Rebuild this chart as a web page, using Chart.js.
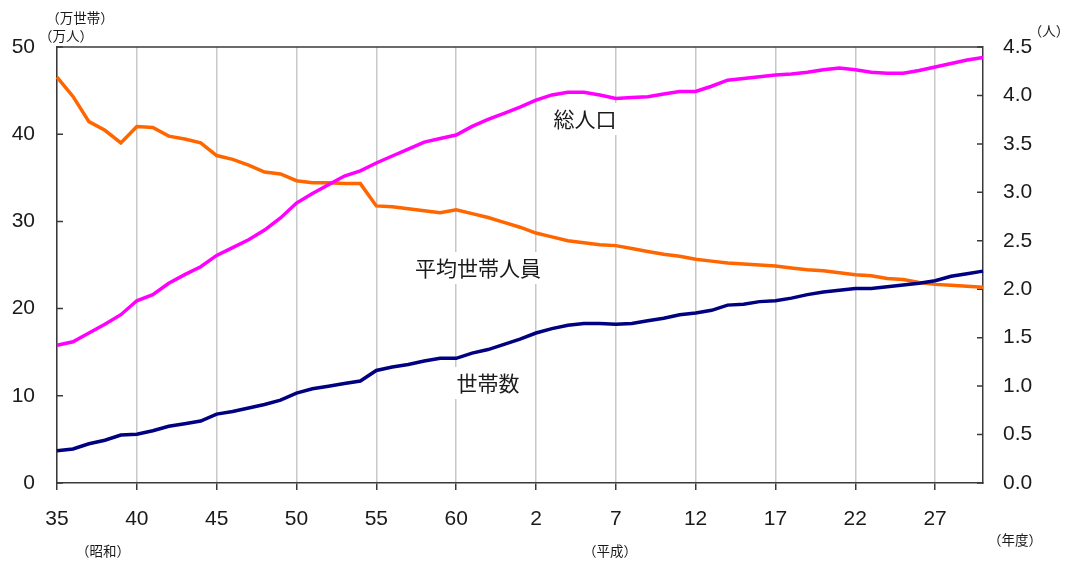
<!DOCTYPE html>
<html lang="ja">
<head>
<meta charset="utf-8">
<title>世帯数・総人口・平均世帯人員の推移</title>
<script src="https://cdn.jsdelivr.net/npm/chart.js@4.4.0/dist/chart.umd.min.js"></script>
<style>
  html, body { margin: 0; padding: 0; background: #fff; }
  #wrap { width: 1070px; height: 562px; }
</style>
</head>
<body>
<div id="wrap"><canvas id="trendChart" width="1070" height="562"></canvas></div>
<script>
// ========================================
// データ（昭和35年度〜平成30年度）
// ========================================

// 年度ラベル（昭和35〜63、平成元〜30）
const fiscalYears = [
  '35', '36', '37', '38', '39', '40', '41', '42', '43', '44',
  '45', '46', '47', '48', '49', '50', '51', '52', '53', '54',
  '55', '56', '57', '58', '59', '60', '61', '62', '63',
  '元', '2', '3', '4', '5', '6', '7', '8', '9', '10',
  '11', '12', '13', '14', '15', '16', '17', '18', '19', '20',
  '21', '22', '23', '24', '25', '26', '27', '28', '29', '30'
];

// 総人口（万人）
const totalPopulation = [
  15.8, 16.2, 17.2, 18.2, 19.3, 20.9, 21.6, 22.9, 23.9, 24.8,
  26.1, 27.0, 27.9, 29.0, 30.4, 32.1, 33.2, 34.2, 35.2, 35.8,
  36.7, 37.5, 38.3, 39.1, 39.5, 39.9, 40.9, 41.7, 42.4,
  43.1, 43.9, 44.5, 44.8, 44.8, 44.5, 44.1, 44.2, 44.3, 44.6,
  44.9, 44.9, 45.5, 46.2, 46.4, 46.6, 46.8, 46.9, 47.1, 47.4,
  47.6, 47.4, 47.1, 47.0, 47.0, 47.3, 47.7, 48.1, 48.5, 48.8
];

// 世帯数（万世帯）
const households = [
  3.7, 3.9, 4.5, 4.9, 5.5, 5.6, 6.0, 6.5, 6.8, 7.1,
  7.9, 8.2, 8.6, 9.0, 9.5, 10.3, 10.8, 11.1, 11.4, 11.7,
  12.9, 13.3, 13.6, 14.0, 14.3, 14.3, 14.9, 15.3, 15.9,
  16.5, 17.2, 17.7, 18.1, 18.3, 18.3, 18.2, 18.3, 18.6, 18.9,
  19.3, 19.5, 19.8, 20.4, 20.5, 20.8, 20.9, 21.2, 21.6, 21.9,
  22.1, 22.3, 22.3, 22.5, 22.7, 22.9, 23.2, 23.7, 24.0, 24.3
];

// 平均世帯人員（人）
const avgHouseholdSize = [
  4.19, 3.99, 3.73, 3.64, 3.51, 3.68, 3.67, 3.58, 3.55, 3.51,
  3.38, 3.34, 3.28, 3.21, 3.19, 3.12, 3.10, 3.10, 3.09, 3.09,
  2.86, 2.85, 2.83, 2.81, 2.79, 2.82, 2.78, 2.74, 2.69,
  2.64, 2.58, 2.54, 2.50, 2.48, 2.46, 2.45, 2.42, 2.39, 2.36,
  2.34, 2.31, 2.29, 2.27, 2.26, 2.25, 2.24, 2.22, 2.20, 2.19,
  2.17, 2.15, 2.14, 2.11, 2.10, 2.07, 2.05, 2.04, 2.03, 2.02
];

// 目盛りは5年度ごと
const TICK_EVERY = 5;

// ========================================
// 体裁
// ========================================
const COLORS = {
  population: '#ff00ff',
  households: '#000080',
  avgSize: '#ff6600',
  axis: '#3a3a3a',
  grid: '#c8c8c8',
  text: '#1a1a1a'
};
const NUM_FONT = { family: '"Liberation Sans", Arial, sans-serif', size: 21 };
const JP_FONT = '"Noto Sans CJK JP", "Noto Sans", sans-serif';

// 系列名（白抜きの箱付き）
const seriesLabels = [
  { text: '総人口', x: 585, y: 119 },
  { text: '平均世帯人員', x: 478, y: 268 },
  { text: '世帯数', x: 488, y: 383 }
];

// 単位・元号の注記
const unitLabels = [
  { text: '（万世帯）', x: 80, y: 18 },
  { text: '（万人）', x: 66, y: 36 },
  { text: '（人）', x: 1049, y: 31 },
  { text: '（昭和）', x: 103, y: 551 },
  { text: '（平成）', x: 610, y: 551 },
  { text: '（年度）', x: 1015, y: 540 }
];

// 上枠線・内向き目盛り・系列名を描く
const decorPlugin = {
  id: 'decor',
  beforeDatasetsDraw(chart) {
    const ctx = chart.ctx;
    const area = chart.chartArea;
    ctx.save();
    ctx.strokeStyle = COLORS.axis;
    ctx.lineWidth = 1.5;
    ctx.beginPath();
    ctx.moveTo(area.left, area.top);
    ctx.lineTo(area.right, area.top);
    ctx.stroke();

    // 縦軸の目盛りはグラフ内側へ
    const yL = chart.scales.y;
    const yR = chart.scales.y2;
    ctx.beginPath();
    yL.ticks.forEach((t, i) => {
      const py = yL.getPixelForTick(i);
      ctx.moveTo(area.left, py);
      ctx.lineTo(area.left + 6, py);
    });
    yR.ticks.forEach((t, i) => {
      const py = yR.getPixelForTick(i);
      ctx.moveTo(area.right, py);
      ctx.lineTo(area.right - 6, py);
    });
    ctx.stroke();

    ctx.font = '21px ' + JP_FONT;
    ctx.textAlign = 'center';
    ctx.textBaseline = 'middle';
    seriesLabels.forEach(l => {
      const w = ctx.measureText(l.text).width;
      ctx.fillStyle = '#fff';
      ctx.fillRect(l.x - w / 2 - 4, l.y - 16, w + 8, 32);
      ctx.fillStyle = COLORS.text;
      ctx.fillText(l.text, l.x, l.y);
    });
    ctx.restore();
  },
  afterDraw(chart) {
    const ctx = chart.ctx;
    ctx.save();
    ctx.font = '13.5px ' + JP_FONT;
    ctx.textAlign = 'center';
    ctx.textBaseline = 'middle';
    ctx.fillStyle = COLORS.text;
    unitLabels.forEach(l => ctx.fillText(l.text, l.x, l.y));
    ctx.restore();
  }
};

function lineSet(label, data, color, axis) {
  return {
    label: label,
    data: data,
    yAxisID: axis,
    borderColor: color,
    backgroundColor: color,
    borderWidth: 3.5,
    pointRadius: 0,
    tension: 0,
    fill: false
  };
}

new Chart(document.getElementById('trendChart'), {
  type: 'line',
  data: {
    labels: fiscalYears,
    datasets: [
      lineSet('総人口', totalPopulation, COLORS.population, 'y'),
      lineSet('世帯数', households, COLORS.households, 'y'),
      lineSet('平均世帯人員', avgHouseholdSize, COLORS.avgSize, 'y2')
    ]
  },
  options: {
    responsive: false,
    animation: false,
    layout: { padding: { top: 47, left: 0, right: 0, bottom: 0 } },
    plugins: {
      legend: { display: false },
      tooltip: { enabled: false }
    },
    scales: {
      x: {
        type: 'category',
        offset: false,
        grid: {
          color: COLORS.grid,
          tickColor: COLORS.axis,
          lineWidth: 1.5,
          tickWidth: 1.5,
          tickLength: 7
        },
        border: { color: COLORS.axis, width: 1.5 },
        ticks: {
          autoSkip: false,
          maxRotation: 0,
          padding: 17,
          color: COLORS.text,
          font: NUM_FONT,
          // ラベルを返さない年度は目盛り線ごと省かれる
          callback(value, index) {
            return index % TICK_EVERY === 0 ? this.getLabelForValue(value) : null;
          }
        },
        afterFit(scale) { scale.height = 79; }
      },
      y: {
        position: 'left',
        min: 0,
        max: 50,
        grid: { display: false, drawTicks: false },
        border: { color: COLORS.axis, width: 1.5 },
        ticks: { stepSize: 10, padding: 22, color: COLORS.text, font: NUM_FONT },
        afterFit(scale) { scale.width = 57; }
      },
      y2: {
        position: 'right',
        min: 0,
        max: 4.5,
        grid: { display: false, drawTicks: false },
        border: { color: COLORS.axis, width: 1.5 },
        ticks: {
          stepSize: 0.5,
          padding: 20,
          color: COLORS.text,
          font: NUM_FONT,
          callback: v => v.toFixed(1)
        },
        afterFit(scale) { scale.width = 87; }
      }
    }
  },
  plugins: [decorPlugin]
});
</script>
</body>
</html>
